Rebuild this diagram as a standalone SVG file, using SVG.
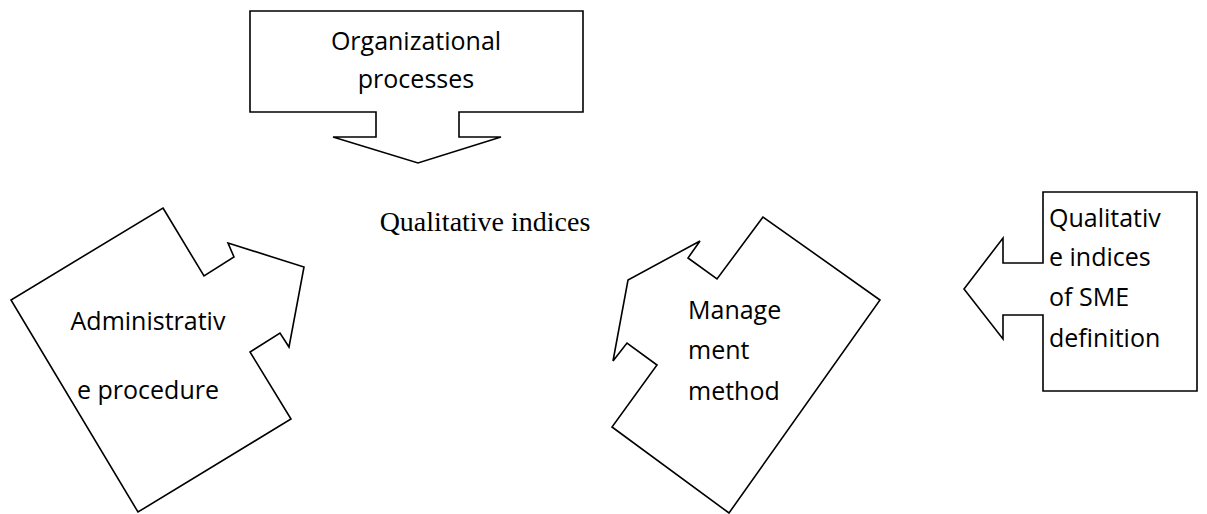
<svg xmlns="http://www.w3.org/2000/svg" width="1207" height="514" viewBox="0 0 1207 514">
<style>
.shape{fill:#fff;stroke:#000;stroke-width:1.6;stroke-linejoin:miter}
.lbl{font-family:"Open Sans","Liberation Sans",sans-serif;font-size:25px;fill:#000}
.ser{font-family:"Liberation Serif","Times New Roman",serif;font-size:28px;fill:#000}
</style>
<rect width="1207" height="514" fill="#fff"/>
<g id="organizational-processes">
<path class="shape" d="M250,11 H583 V112 H459 V137 H501 L418,163 L333,137 H376 V112 H250 Z"/>
<text class="lbl" x="416" y="50" text-anchor="middle">Organizational</text>
<text class="lbl" x="416" y="88" text-anchor="middle">processes</text>
</g>
<g id="qualitative-indices">
<text class="ser" x="485" y="231" text-anchor="middle">Qualitative indices</text>
</g>
<g id="administrative-procedure">
<path class="shape" d="M163,208 L204,276 L234,257 L228,243 L304,267 L289,347 L280,333 L250,352 L291,419 L138,512 L11,300 Z"/>
<text class="lbl" x="148" y="330" text-anchor="middle">Administrativ</text>
<text class="lbl" x="148" y="399" text-anchor="middle">e procedure</text>
</g>
<g id="management-method">
<path class="shape" d="M763,217 L717,279 L688,258 L700,241 L628,280 L613,361 L627,343 L657,365 L612,427 L729,513 L880,300 Z"/>
<text class="lbl" x="688" y="319">Manage</text>
<text class="lbl" x="688" y="359">ment</text>
<text class="lbl" x="688" y="400">method</text>
</g>
<g id="qualitative-indices-sme">
<path class="shape" d="M1043,192 H1197 V391 H1043 V315 H1003 V339 L964,289 L1003,238 V263 H1043 Z"/>
<text class="lbl" x="1049" y="227">Qualitativ</text>
<text class="lbl" x="1049" y="266">e indices</text>
<text class="lbl" x="1049" y="306">of SME</text>
<text class="lbl" x="1049" y="347">definition</text>
</g>
<g id="connectors"/>
</svg>
